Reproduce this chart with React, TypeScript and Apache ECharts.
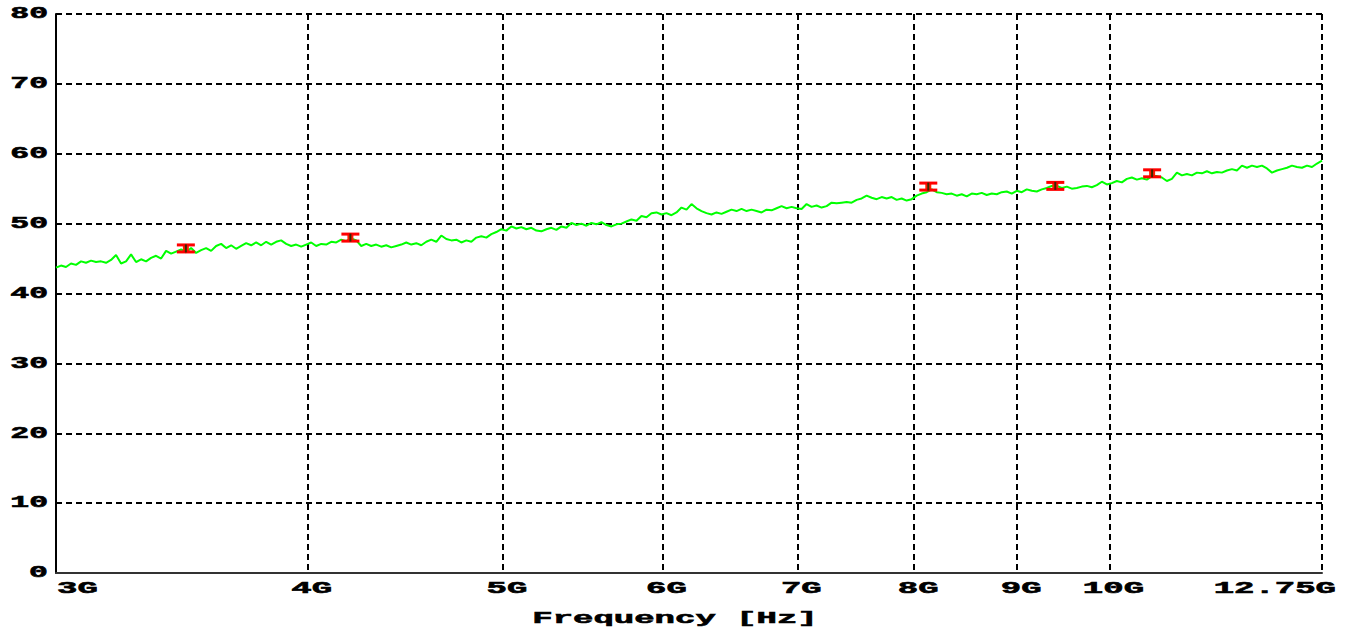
import React, { useEffect, useRef } from "react";
import * as echarts from "echarts";

// Sweep definition (log-spaced analyser sweep)
const SWEEP_START_GHZ = 3;
const SWEEP_STOP_GHZ = 12.75;

const levels: number[] = [
  43.7, 44.0, 43.8, 44.3, 44.1, 44.6, 44.4, 44.7, 44.5, 44.6,
  44.4, 44.8, 45.5, 44.3, 44.6, 45.6, 44.5, 44.9, 44.6, 45.1,
  45.4, 45.0, 46.1, 45.7, 46.0, 46.3, 45.9, 46.5, 45.8, 46.2,
  46.5, 46.1, 46.8, 47.1, 46.5, 46.9, 46.4, 46.8, 47.2, 46.9,
  47.3, 46.9, 47.4, 47.0, 47.4, 47.6, 47.1, 46.8, 47.0, 46.7,
  47.0, 47.3, 46.8, 47.1, 47.0, 47.4, 47.3, 47.7, 47.5, 47.9,
  47.6, 46.8, 47.1, 46.8, 47.0, 46.7, 46.9, 46.6, 46.8, 47.0,
  47.3, 47.0, 47.2, 46.9, 47.4, 47.7, 47.4, 48.3, 47.8, 47.6,
  47.7, 47.3, 47.6, 47.4, 48.0, 48.2, 48.0, 48.5, 48.8, 49.2,
  49.0, 49.6, 49.3, 49.5, 49.2, 49.4, 49.0, 48.9, 49.2, 49.4,
  49.1, 49.6, 49.4, 50.1, 49.8, 50.0, 49.7, 50.1, 49.9, 50.2,
  49.8, 49.6, 49.9, 50.0, 50.3, 50.6, 50.4, 51.1, 50.9, 51.5,
  51.6, 51.3, 51.5, 51.2, 51.6, 52.3, 52.0, 52.8, 52.2, 51.8,
  51.5, 51.3, 51.6, 51.4, 51.7, 52.0, 51.8, 52.1, 51.8, 52.0,
  51.8, 51.6, 52.0, 51.9, 52.2, 52.5, 52.2, 52.4, 52.2, 52.1,
  52.8, 52.4, 52.6, 52.3, 52.5, 53.0, 52.9, 53.0, 53.1, 53.0,
  53.4, 53.6, 54.0, 53.7, 53.5, 53.8, 53.6, 53.8, 53.4, 53.6,
  53.3, 53.5, 54.0, 54.3, 54.5, 54.9, 54.5, 54.4, 54.2, 54.3,
  54.0, 54.2, 53.9, 54.3, 54.2, 54.4, 54.1, 54.3, 54.2, 54.5,
  54.6, 54.3, 54.7, 54.5, 54.9, 54.7, 54.6, 54.9, 55.1, 55.4,
  55.4, 55.1, 55.3, 55.0, 55.1, 55.3, 55.4, 55.2, 55.5, 56.0,
  55.6, 55.8, 56.1, 55.9, 56.4, 56.6, 56.3, 56.5, 56.3, 56.8,
  56.8, 56.6, 56.1, 56.4, 57.3, 56.9, 57.1, 56.9, 57.3, 57.2,
  57.5, 57.2, 57.4, 57.3, 57.6, 57.8, 57.6, 58.3, 58.0, 58.3,
  58.1, 58.3, 57.9, 57.3, 57.6, 57.8, 58.0, 58.3, 58.1, 58.0,
  58.3, 58.1, 58.6, 59.0,
];

// Limit / reference markers
const markerFreqGHz = [3.48, 4.2, 8.13, 9.4, 10.5];
const markerLevels = [46.45, 48.0, 55.3, 55.4, 57.2];

// Axis ticks
const xTicksGHz = [3, 4, 5, 6, 7, 8, 9, 10, 12.75];
const xTickLabels = ["3G", "4G", "5G", "6G", "7G", "8G", "9G", "10G", "12.75G"];
const yTicks = [0, 10, 20, 30, 40, 50, 60, 70, 80];
const xAxisTitle = "Frequency [Hz]";

const FONT_FAMILY = '"Liberation Mono", "DejaVu Sans Mono", monospace';

export default function App() {
  const ref = useRef<HTMLDivElement>(null);

  useEffect(() => {
    if (!ref.current) return;
    const chart = echarts.init(ref.current, undefined, { renderer: "svg" });

    const n = levels.length;
    const freqs = levels.map(
      (_, i) => SWEEP_START_GHZ * Math.pow(SWEEP_STOP_GHZ / SWEEP_START_GHZ, i / (n - 1))
    );
    const traceData = freqs.map((f, i) => [Math.log10(f), levels[i]]);
    const markerData = markerFreqGHz.map((f, i) => [Math.log10(f), markerLevels[i]]);
    const xTickVals = xTicksGHz.map((f) => Math.log10(f));
    const xMin = Math.log10(SWEEP_START_GHZ);
    const xMax = Math.log10(SWEEP_STOP_GHZ);

    const textStyle = (text: string, align: string) => ({
      text,
      fill: "#000",
      stroke: "#000",
      lineWidth: 0.6,
      fontFamily: FONT_FAMILY,
      fontWeight: "bold",
      fontSize: 17,
      align,
      textAlign: align,
      verticalAlign: "middle",
      textVerticalAlign: "middle",
    });

    const option: any = {
      animation: false,
      backgroundColor: "#ffffff",
      grid: {
        left: 56,
        right: 28,
        top: 14,
        bottom: 60,
        containLabel: false,
        outerBoundsMode: "none",
      },
      xAxis: {
        type: "value",
        min: xMin,
        max: xMax,
        axisLine: { show: true, onZero: false, lineStyle: { color: "#333", width: 2 } },
        axisTick: { show: false, customValues: xTickVals },
        axisLabel: { show: false, customValues: xTickVals },
        splitLine: {
          show: true,
          lineStyle: { color: "#000", width: 2, type: [6, 4] },
        },
      },
      yAxis: {
        type: "value",
        min: 0,
        max: 80,
        interval: 10,
        axisLine: { show: true, lineStyle: { color: "#000", width: 2 } },
        axisTick: { show: false },
        axisLabel: { show: false },
        splitLine: {
          show: true,
          lineStyle: { color: "#000", width: 2, type: [6, 4] },
        },
      },
      graphic: [
        {
          type: "text",
          x: 675,
          y: 619,
          scaleX: 2.0,
          style: textStyle(xAxisTitle, "center"),
          silent: true,
        },
      ],
      series: [
        {
          type: "line",
          data: traceData,
          showSymbol: false,
          symbol: "none",
          lineStyle: { color: "#00ff00", width: 2 },
          silent: true,
          z: 3,
        },
        {
          type: "custom",
          data: markerData,
          silent: true,
          z: 4,
          renderItem: (params: any, api: any) => {
            const p = api.coord([api.value(0), api.value(1)]);
            const cx = p[0];
            const cy = p[1];
            return {
              type: "group",
              children: [
                { type: "rect", shape: { x: cx - 3, y: cy - 4, width: 6, height: 8 }, style: { fill: "#ff2000" } },
                { type: "rect", shape: { x: cx - 9, y: cy - 5, width: 18, height: 3 }, style: { fill: "#ff0000" } },
                { type: "rect", shape: { x: cx - 9, y: cy + 2, width: 18, height: 3 }, style: { fill: "#ff0000" } },
                { type: "rect", shape: { x: cx - 1, y: cy - 4, width: 2, height: 8 }, style: { fill: "#3a2a00" } },
              ],
            };
          },
        },
        {
          type: "custom",
          data: xTickVals.map((v, i) => [v, 0, i]),
          silent: true,
          clip: false,
          renderItem: (params: any, api: any) => {
            const i = api.value(2);
            const p = api.coord([api.value(0), 0]);
            let align = "center";
            let dx = 4;
            if (i === 0) {
              align = "left";
              dx = 1;
            } else if (i === xTickLabels.length - 1) {
              align = "right";
              dx = 14;
            }
            return {
              type: "text",
              x: p[0] + dx,
              y: p[1] + 16,
              scaleX: 2.0,
              style: textStyle(xTickLabels[i], align),
            };
          },
        },
        {
          type: "custom",
          data: yTicks.map((v) => [xMin, v]),
          silent: true,
          clip: false,
          renderItem: (params: any, api: any) => {
            const v = api.value(1);
            const p = api.coord([xMin, v]);
            return {
              type: "text",
              x: p[0] - 8,
              y: p[1],
              scaleX: 1.85,
              style: textStyle(String(v), "right"),
            };
          },
        },
      ],
    };

    chart.setOption(option);
    return () => {
      chart.dispose();
    };
  }, []);

  return (
    <div
      ref={ref}
      style={{ position: "absolute", left: 0, top: 0, width: 1350, height: 633 }}
    />
  );
}
